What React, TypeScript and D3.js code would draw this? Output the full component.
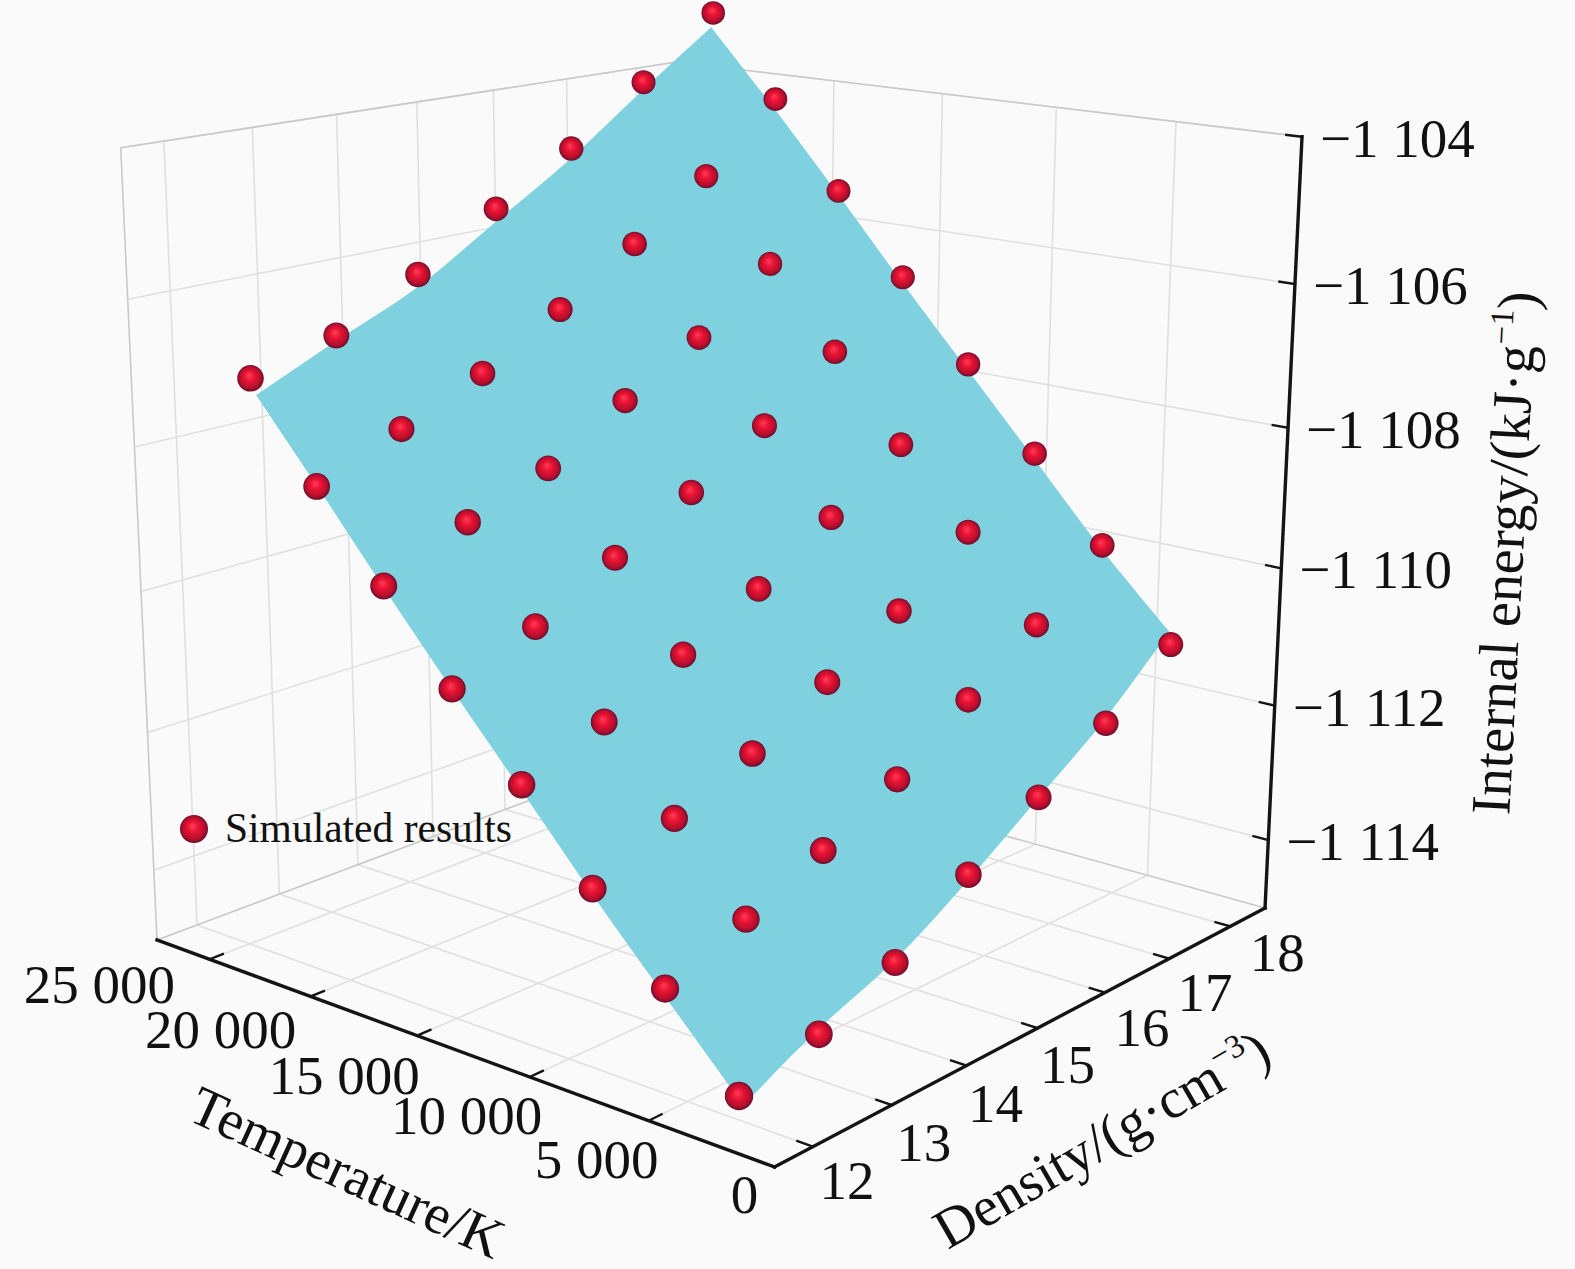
import React from "react";
import * as d3 from "d3";

// ---- data ----
const densities = [12, 13, 14, 15, 16, 17, 18];
const temperatures = [24000, 21000, 18000, 15000, 12000, 9000, 6000, 3000];
const energyAt24000 = [-1106.97, -1106.65, -1106.05, -1105.35, -1104.69, -1103.91, -1103.05];
const energyAt21000 = [-1108.23, -1107.75, -1107.26, -1106.62, -1105.92, -1105.15, -1104.21];
const energyAt18000 = [-1109.35, -1108.82, -1108.39, -1107.73, -1107.1, -1106.28, -1105.43];
const energyAt15000 = [-1110.49, -1110.02, -1109.42, -1108.83, -1108.18, -1107.39, -1106.55];
const energyAt12000 = [-1111.51, -1111.07, -1110.53, -1109.97, -1109.29, -1108.55, -1107.66];
const energyAt9000 = [-1112.61, -1112.11, -1111.64, -1111.04, -1110.4, -1109.61, -1108.78];
const energyAt6000 = [-1113.63, -1113.18, -1112.7, -1112.14, -1111.42, -1110.72, -1109.91];
const energyAt3000 = [-1114.72, -1114.42, -1113.94, -1113.19, -1112.54, -1111.89, -1111.13];
const energyRows = [energyAt24000, energyAt21000, energyAt18000, energyAt15000, energyAt12000, energyAt9000, energyAt6000, energyAt3000];

// fitted surface: energy along its four edges
const surfaceLowDensity = 12.08;
const surfaceHighDensity = 18;
const surfaceHotTemp = 24000;
const surfaceColdTemp = 3000;
const surfaceDensities = [surfaceLowDensity, 13, 14, 15, 16, 17, surfaceHighDensity];
const surfaceHotEdge = [-1107.22, -1106.74, -1106.24, -1105.55, -1104.85, -1104.04, -1103.26];
const surfaceColdEdge = [-1114.89, -1114.37, -1113.93, -1113.3, -1112.58, -1111.85, -1110.94];
const surfaceDenseEdge = [-1103.26, -1104.33, -1105.45, -1106.6, -1107.71, -1108.82, -1109.94, -1110.94];
const surfaceThinEdge = [-1107.22, -1108.35, -1109.51, -1110.63, -1111.72, -1112.82, -1113.86, -1114.89];

const tempTicks = [0, 5000, 10000, 15000, 20000, 25000];
const tempLabels = ["0", "5 000", "10 000", "15 000", "20 000", "25 000"];
const densTicks = [12, 13, 14, 15, 16, 17, 18];
const energyTicks = [-1114, -1112, -1110, -1108, -1106, -1104];
const energyLabels = ["\u22121 114", "\u22121 112", "\u22121 110", "\u22121 108", "\u22121 106", "\u22121 104"];

// ---- layout ----
const W = 1575, H = 1269;
const tempDomain = [0, 27700], densDomain = [11.53, 18.59], energyDomain = [-1115.03, -1104];
const tempLabelOffset = [[-30, 28], [-52, 39], [-63, 39], [-73, 40], [-90, 34], [-110, 26]];
const densLabelOffset = [[34, 34], [32, 38], [29, 38], [30, 37], [37, 35], [36, 34], [47, 27]];
const serif = "'Liberation Serif','Times New Roman',serif";

const su = d3.scaleLinear().domain(tempDomain).range([0, 1]);
const sv = d3.scaleLinear().domain(densDomain).range([0, 1]);
const sw = d3.scaleLinear().domain(energyDomain).range([0, 1]);

// perspective map of the unit box on the page
const boxPoint = (u: number, v: number, w: number): [number, number, number] => {
  const q = 1 + 0.163 * u + 0.1957 * v - 0.07314 * w;
  return [
    (774.5 - 591.9 * u + 738.1 * v - 51 * w) / q,
    (1167 - 73.8 * u - 81.3 * v - 932.2 * w) / q,
    q,
  ];
};
const project = (T: number, D: number, E: number) => boxPoint(su(T), sv(D), sw(E));
const line2 = d3.line<number[]>().x((d) => d[0]).y((d) => d[1]);
const curve2 = d3.line<number[]>().x((d) => d[0]).y((d) => d[1]).curve(d3.curveCatmullRom.alpha(0.5));
const seg = (a: number[], b: number[]) => line2([a, b]) as string;
const tickLen = 0.022;

const GRID = "#e0e0e0";
const FRAME = "#c9c9c9";
const AXIS = "#141414";

export default function App() {
  const gridPaths: string[] = [];
  tempTicks.forEach((T) => {
    const u = su(T);
    gridPaths.push(seg(boxPoint(u, 0, 0), boxPoint(u, 1, 0)));
    gridPaths.push(seg(boxPoint(u, 1, 0), boxPoint(u, 1, 1)));
  });
  densTicks.forEach((D) => {
    const v = sv(D);
    gridPaths.push(seg(boxPoint(0, v, 0), boxPoint(1, v, 0)));
    gridPaths.push(seg(boxPoint(1, v, 0), boxPoint(1, v, 1)));
  });
  energyTicks.forEach((E) => {
    const w = sw(E);
    gridPaths.push(seg(boxPoint(0, 1, w), boxPoint(1, 1, w)));
    gridPaths.push(seg(boxPoint(1, 0, w), boxPoint(1, 1, w)));
  });
  const framePaths = [
    seg(boxPoint(1, 0, 0), boxPoint(1, 1, 0)),
    seg(boxPoint(0, 1, 0), boxPoint(1, 1, 0)),
    seg(boxPoint(1, 1, 0), boxPoint(1, 1, 1)),
    seg(boxPoint(1, 0, 0), boxPoint(1, 0, 1)),
    seg(boxPoint(1, 0, 1), boxPoint(1, 1, 1)),
    seg(boxPoint(0, 1, 1), boxPoint(1, 1, 1)),
  ];

  // surface outline: four smooth edges joined at the corners
  const edges = [
    surfaceDensities.map((D, i) => project(surfaceHotTemp, D, surfaceHotEdge[i])),
    temperatures.map((T, i) => project(T, surfaceHighDensity, surfaceDenseEdge[i])),
    surfaceDensities.map((D, i) => project(surfaceColdTemp, D, surfaceColdEdge[i])).reverse(),
    temperatures.slice().reverse().map((T, i) => project(T, surfaceLowDensity, surfaceThinEdge[surfaceThinEdge.length - 1 - i])),
  ];
  const surfacePath =
    edges.map((e, i) => {
      const d = curve2(e) as string;
      return i === 0 ? d : "L" + d.slice(1);
    }).join("") + "Z";

  const spheres = temperatures.flatMap((T, i) =>
    densities.map((D, j) => {
      const [x, y, q] = project(T, D, energyRows[i][j]);
      return { key: `${T}-${D}`, x: x + 2, y, r: 14.6 / q };
    })
  );

  return (
    <svg width={W} height={H} style={{ position: "fixed", left: 0, top: 0 }} fontFamily={serif}>
      <defs>
        <radialGradient id="ball" cx="0.5" cy="0.5" r="0.52" fx="0.44" fy="0.38">
          <stop offset="0" stopColor="#ff3d58" />
          <stop offset="0.4" stopColor="#e81232" />
          <stop offset="0.75" stopColor="#b80f2e" />
          <stop offset="1" stopColor="#5e0f2c" />
        </radialGradient>
      </defs>
      <rect width={W} height={H} fill="#fafafa" />
      <g fill="none" stroke={GRID} strokeWidth={1.6}>
        {gridPaths.map((d, i) => <path key={i} d={d} />)}
      </g>
      <g fill="none" stroke={FRAME} strokeWidth={1.6}>
        {framePaths.map((d, i) => <path key={i} d={d} />)}
      </g>

      <g fill="none" stroke={AXIS} strokeLinecap="square">
        <path d={seg(boxPoint(0, 0, 0), boxPoint(1, 0, 0))} strokeWidth={3.4} />
        <path d={seg(boxPoint(0, 0, 0), boxPoint(0, 1, 0))} strokeWidth={3.4} />
        <path d={seg(boxPoint(0, 1, 0), boxPoint(0, 1, 1))} strokeWidth={3.4} />
        {tempTicks.map((T) => (
          <path key={T} strokeWidth={2.4} d={seg(boxPoint(su(T), 0, 0), boxPoint(su(T), tickLen, 0))} />
        ))}
        {densTicks.map((D) => (
          <path key={D} strokeWidth={2.4} d={seg(boxPoint(0, sv(D), 0), boxPoint(tickLen, sv(D), 0))} />
        ))}
        {energyTicks.map((E) => (
          <path key={E} strokeWidth={2.4} d={seg(boxPoint(0, 1, sw(E)), boxPoint(tickLen, 1, sw(E)))} />
        ))}
      </g>

      <path d={surfacePath} fill="#7fd1e0" />

      {spheres.map((s) => (
        <circle key={s.key} cx={s.x} cy={s.y} r={s.r} fill="url(#ball)" />
      ))}

      <g fontSize={55} fill="#111">
        {tempTicks.map((T, i) => {
          const p = boxPoint(su(T), 0, 0);
          return (
            <text key={T} x={p[0] + tempLabelOffset[i][0]} y={p[1] + tempLabelOffset[i][1] + 18} textAnchor="middle">
              {tempLabels[i]}
            </text>
          );
        })}
        {densTicks.map((D, i) => {
          const p = boxPoint(0, sv(D), 0);
          return (
            <text key={D} x={p[0] + densLabelOffset[i][0]} y={p[1] + densLabelOffset[i][1] + 18} textAnchor="middle">
              {D}
            </text>
          );
        })}
        {energyTicks.map((E, i) => {
          const p = boxPoint(0, 1, sw(E));
          return (
            <text key={E} x={p[0] + 18} y={p[1] + 20} textAnchor="start">
              {energyLabels[i]}
            </text>
          );
        })}
      </g>
      <g fontSize={56} fill="#111">
        <text transform="translate(347,1173) rotate(24.5)" y={18} textAnchor="middle">Temperature/K</text>
        <text transform="translate(1102,1140) rotate(-30)" y={18} textAnchor="middle">
          Density/(g·cm<tspan fontSize={33} dy={-22}>{"\u22123"}</tspan><tspan dy={22}>)</tspan>
        </text>
        <text transform="translate(1505,553) rotate(-87)" y={18} textAnchor="middle">
          Internal energy/(kJ·g<tspan fontSize={33} dy={-22}>{"\u22121"}</tspan><tspan dy={22}>)</tspan>
        </text>
      </g>

      <circle cx={194} cy={829} r={14} fill="url(#ball)" />
      <text x={225} y={842} fontSize={41.5} fill="#111">Simulated results</text>
    </svg>
  );
}
